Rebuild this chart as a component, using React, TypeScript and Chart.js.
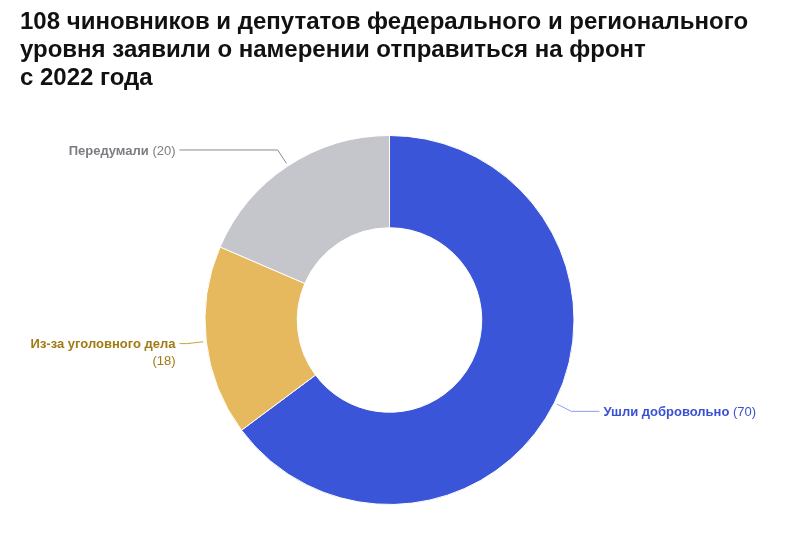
import React, { useEffect, useRef } from "react";
import { Chart, registerables } from "chart.js";

Chart.register(...registerables);

const categories = ["Ушли добровольно", "Из-за уголовного дела", "Передумали"];
const values = [70, 18, 20];
const titleLines = [
  "108 чиновников и депутатов федерального и регионального",
  "уровня заявили о намерении отправиться на фронт",
  "с 2022 года",
];

const sliceColors = ["#3b55d9", "#e6b95e", "#c5c6cb"];
const labelColors = ["#3a50d4", "#a07a14", "#7b7d82"];
const leaderColors = ["#8e9cec", "#c9a23c", "#8a8a8a"];

const FONT = "'Liberation Sans', Arial, sans-serif";

const leaderPlugin = {
  id: "leaders",
  afterDatasetsDraw(chart: any) {
    const ctx = chart.ctx as CanvasRenderingContext2D;
    const meta = chart.getDatasetMeta(0);
    meta.data.forEach((arc: any, i: number) => {
      const { x, y, startAngle, endAngle, outerRadius } = arc.getProps(
        ["x", "y", "startAngle", "endAngle", "outerRadius"],
        true
      );
      const mid = (startAngle + endAngle) / 2;
      const c = Math.cos(mid);
      const s = Math.sin(mid);
      const x0 = x + c * (outerRadius + 3);
      const y0 = y + s * (outerRadius + 3);
      const x1 = x + c * (outerRadius + 19);
      const y1 = y + s * (outerRadius + 19);
      const right = c >= 0;
      const dir = right ? 1 : -1;
      const x2 = x + dir * (outerRadius + 25.5);
      ctx.save();
      ctx.strokeStyle = leaderColors[i];
      ctx.lineWidth = 1;
      ctx.beginPath();
      ctx.moveTo(x0, y0);
      ctx.lineTo(x1, y1);
      ctx.lineTo(x2, y1);
      ctx.stroke();

      const name = categories[i];
      const val = `(${values[i]})`;
      const bold = `bold 13px ${FONT}`;
      const norm = `13px ${FONT}`;
      ctx.font = bold;
      const wName = ctx.measureText(name + " ").width;
      ctx.font = norm;
      const wVal = ctx.measureText(val).width;
      const tx = x2 + dir * 4;
      ctx.fillStyle = labelColors[i];
      ctx.textBaseline = "middle";
      const maxW = 165;
      if (wName + wVal <= maxW) {
        const left = right ? tx : tx - (wName + wVal);
        ctx.textAlign = "left";
        ctx.font = bold;
        ctx.fillText(name, left, y1 + 1);
        ctx.font = norm;
        ctx.fillText(val, left + wName, y1 + 1);
      } else {
        ctx.textAlign = right ? "left" : "right";
        ctx.font = bold;
        ctx.fillText(name, tx, y1 + 1);
        ctx.font = norm;
        ctx.fillText(val, tx, y1 + 18);
      }
      ctx.restore();
    });
  },
};

export default function App() {
  const ref = useRef<HTMLCanvasElement>(null);
  useEffect(() => {
    document.body.style.margin = "0";
    const chart = new Chart(ref.current!, {
      type: "doughnut",
      data: {
        labels: categories,
        datasets: [
          {
            data: values,
            backgroundColor: sliceColors,
            borderColor: "#ffffff",
            borderWidth: 1,
            hoverOffset: 0,
          },
        ],
      },
      options: {
        animation: false,
        responsive: false,
        cutout: "50%",
        layout: { padding: { top: 135, bottom: 32, left: 204.5, right: 231.5 } },
        plugins: {
          legend: { display: false },
          tooltip: { enabled: false },
          title: { display: false },
        },
      },
      plugins: [leaderPlugin],
    });
    return () => chart.destroy();
  }, []);
  return (
    <div style={{ position: "relative", width: 806, height: 537, background: "#fff" }}>
      <canvas ref={ref} width={806} height={537} style={{ position: "absolute", left: 0, top: 0 }} />
      <div
        style={{
          position: "absolute",
          left: 20,
          top: 7,
          font: `bold 24px ${FONT}`,
          lineHeight: "28px",
          color: "#111",
          whiteSpace: "nowrap",
        }}
      >
        {titleLines.map((l, i) => (
          <div key={i}>{l}</div>
        ))}
      </div>
    </div>
  );
}
